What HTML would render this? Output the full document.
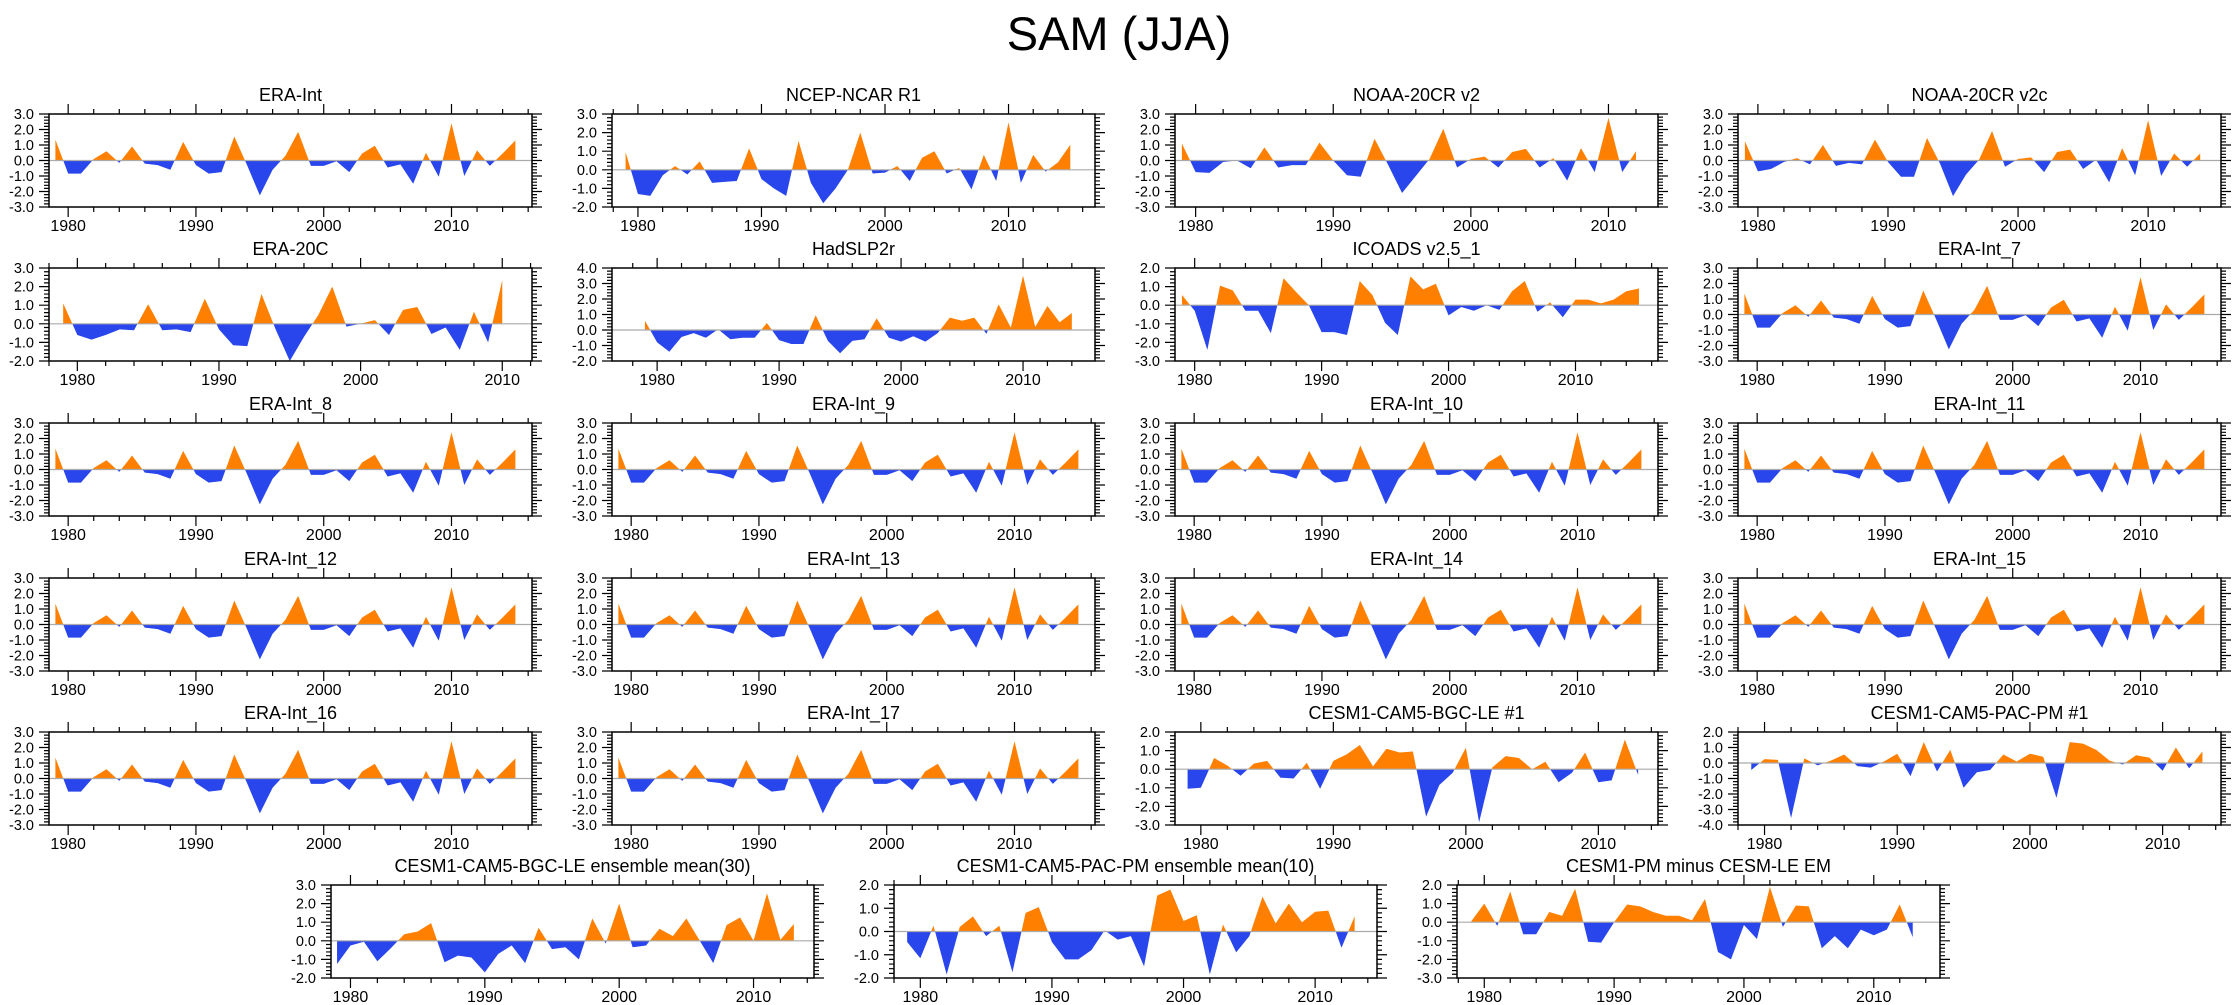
<!DOCTYPE html>
<html><head><meta charset="utf-8"><style>
html,body{margin:0;padding:0;background:#fff;}
svg{display:block;font-family:"Liberation Sans",sans-serif;}
</style></head><body>
<svg id="fig" width="2238" height="1005" viewBox="0 0 2238 1005" xmlns="http://www.w3.org/2000/svg">
<rect width="2238" height="1005" fill="#fff"/>
<text x="1119" y="50" font-size="47" text-anchor="middle" fill="#000">SAM (JJA)</text>
</svg>
<script>
// ---------- data ----------
const eraInt = [1.35,-0.85,-0.85,0.1,0.6,-0.15,0.9,-0.2,-0.3,-0.6,1.2,-0.3,-0.85,-0.75,1.55,-0.3,-2.25,-0.6,0.3,1.85,-0.35,-0.35,-0.05,-0.75,0.45,0.95,-0.45,-0.25,-1.5,0.5,-1.05,2.4,-1.0,0.65,-0.35,0.45,1.3];
const ncep = [0.95,-1.3,-1.4,-0.3,0.2,-0.25,0.45,-0.7,-0.65,-0.6,1.15,-0.5,-1.0,-1.4,1.55,-0.7,-1.8,-1.0,0.0,2.0,-0.2,-0.15,0.2,-0.6,0.65,1.0,-0.2,0.1,-1.05,0.8,-0.6,2.55,-0.7,0.8,-0.1,0.4,1.35];
const cr20v2 = [1.1,-0.75,-0.8,-0.1,0.0,-0.5,0.85,-0.45,-0.3,-0.3,1.15,0.0,-0.95,-1.05,1.4,-0.3,-2.1,-1.0,0.1,2.05,-0.45,0.1,0.25,-0.45,0.55,0.75,-0.45,0.15,-1.3,0.8,-0.75,2.75,-0.75,0.6];
const cr20v2c = [1.25,-0.7,-0.55,-0.1,0.15,-0.25,1.0,-0.35,-0.15,-0.25,1.35,-0.1,-1.05,-1.05,1.45,-0.2,-2.3,-0.9,0.05,1.9,-0.4,0.1,0.2,-0.75,0.55,0.7,-0.55,0.05,-1.4,0.8,-0.95,2.6,-1.0,0.45,-0.4,0.45];
const era20c = [1.1,-0.6,-0.85,-0.6,-0.3,-0.35,1.05,-0.35,-0.3,-0.45,1.35,-0.3,-1.15,-1.2,1.6,-0.3,-2.0,-0.7,0.45,2.0,-0.15,0.0,0.2,-0.6,0.75,0.9,-0.55,-0.2,-1.4,0.65,-1.0,2.35];
const hadslp = [0.6,-0.8,-1.4,-0.45,-0.2,-0.5,0.05,-0.6,-0.5,-0.5,0.45,-0.65,-0.9,-0.9,0.95,-0.7,-1.5,-0.7,-0.6,0.75,-0.5,-0.75,-0.4,-0.75,-0.2,0.8,0.6,0.8,-0.25,1.65,0.15,3.5,0.2,1.55,0.5,1.1];
const icoads = [0.55,-0.3,-2.4,1.05,0.8,-0.3,-0.3,-1.5,1.45,0.7,0.0,-1.45,-1.45,-1.6,1.3,0.55,-0.95,-1.6,1.55,0.85,1.15,-0.55,-0.1,-0.3,0.0,-0.25,0.75,1.3,-0.35,0.15,-0.65,0.3,0.3,0.1,0.3,0.75,0.9];
const bgcLe1 = [-1.05,-1.0,0.6,0.2,-0.35,0.3,0.45,-0.45,-0.5,0.35,-1.05,0.45,0.8,1.3,0.15,1.1,0.9,0.95,-2.55,-0.85,-0.2,1.15,-2.85,0.1,0.7,0.6,0.0,0.4,-0.7,-0.2,0.9,-0.7,-0.6,1.6,-0.3];
const pacPm1 = [-0.45,0.25,0.2,-3.55,0.3,-0.15,0.15,0.55,-0.2,-0.3,0.1,0.6,-0.85,1.35,-0.55,0.85,-1.6,-0.6,-0.45,0.55,0.1,0.6,0.4,-2.25,1.35,1.25,0.85,0.15,-0.1,0.5,0.35,-0.5,1.0,-0.35,0.75];
const bgcEm = [-1.25,-0.25,-0.05,-1.1,-0.4,0.35,0.5,0.95,-1.15,-0.8,-0.9,-1.7,-0.7,-0.25,-1.2,0.7,-0.45,-0.35,-1.0,1.2,-0.15,2.0,-0.35,-0.25,0.65,0.25,1.2,0.0,-1.2,0.85,1.25,0.0,2.55,0.05,0.9];
const pacEm = [-0.45,-1.15,0.25,-1.85,0.2,0.65,-0.2,0.25,-1.75,0.8,1.05,-0.45,-1.2,-1.2,-0.8,0.05,-0.35,-0.2,-1.5,1.55,1.8,0.45,0.7,-1.85,0.3,-0.9,-0.2,1.5,0.35,1.2,0.4,0.85,0.9,-0.7,0.65];
const pmMinus = [0.05,1.0,-0.2,1.65,-0.65,-0.65,0.55,0.35,1.8,-1.05,-1.1,0.0,0.95,0.85,0.55,0.35,0.35,0.1,1.25,-1.6,-2.0,-0.15,-0.9,1.9,-0.25,0.9,0.85,-1.4,-0.75,-1.4,-0.4,-0.7,-0.4,0.95,-0.8];

const panelTitles = ["ERA-Int","NCEP-NCAR R1","NOAA-20CR v2","NOAA-20CR v2c","ERA-20C","HadSLP2r","ICOADS v2.5_1","ERA-Int_7","ERA-Int_8","ERA-Int_9","ERA-Int_10","ERA-Int_11","ERA-Int_12","ERA-Int_13","ERA-Int_14","ERA-Int_15","ERA-Int_16","ERA-Int_17","CESM1-CAM5-BGC-LE #1","CESM1-CAM5-PAC-PM #1","CESM1-CAM5-BGC-LE ensemble mean(30)","CESM1-CAM5-PAC-PM ensemble mean(10)","CESM1-PM minus CESM-LE EM"];
const panelSeries = [eraInt,ncep,cr20v2,cr20v2c,era20c,hadslp,icoads,eraInt,eraInt,eraInt,eraInt,eraInt,eraInt,eraInt,eraInt,eraInt,eraInt,eraInt,bgcLe1,pacPm1,bgcEm,pacEm,pmMinus];
const panelYMin = [-3,-2,-3,-3,-2,-2,-3,-3,-3,-3,-3,-3,-3,-3,-3,-3,-3,-3,-3,-4,-2,-2,-3];
const panelYMax = [3,3,3,3,3,4,2,3,3,3,3,3,3,3,3,3,3,3,2,2,3,2,2];
const panelXMin = [1978.5,1977.9,1978.5,1978.47,1978.0,1976.3,1978.45,1978.5,1978.5,1978.5,1978.5,1978.5,1978.5,1978.5,1978.5,1978.5,1978.5,1978.5,1978.05,1978.0,1978.55,1978.0,1977.9];
const panelXMax = [2016.3,2017.0,2013.6,2015.6,2012.1,2015.9,2016.5,2016.3,2016.3,2016.3,2016.3,2016.3,2016.3,2016.3,2016.3,2016.3,2016.3,2016.3,2014.5,2014.4,2014.5,2014.7,2015.1];
const startYear = 1979;

// ---------- layout ----------
const NS = "http://www.w3.org/2000/svg";
const svg = document.getElementById("fig");
const colLeft = [49,612,1175,1738];
const rowTop = [114,268,423,578,732];
const bottomTop = 885;
const bottomLeft = [331,894,1457];
const PW = 483, PH = 93;

function mk(tag, attrs, parent){
  const e = document.createElementNS(NS, tag);
  for (const k in attrs) e.setAttribute(k, attrs[k]);
  (parent||svg).appendChild(e);
  return e;
}

function drawPanel(i, L, T){
  const vals = panelSeries[i], ymin = panelYMin[i], ymax = panelYMax[i];
  const xmin = panelXMin[i], xmax = panelXMax[i];
  const sx = yr => L + (yr - xmin) / (xmax - xmin) * PW;
  const sy = v => T + (ymax - v) / (ymax - ymin) * PH;
  const g = mk("g", {});
  
  

  const t = mk("text", {x: L + PW/2, y: T - 13, "font-size": 18, "text-anchor": "middle", fill: "#000"}, g);
  t.textContent = panelTitles[i];
  
  

  const pts = [];
  for (let k = 0; k < vals.length; k++){
    const yr = startYear + k, v = vals[k];
    if (k > 0){
      const pv = vals[k-1];
      if ((pv > 0 && v < 0) || (pv < 0 && v > 0)){
        const f = pv / (pv - v);
        pts.push([yr - 1 + f, 0]);
      }
    }
    pts.push([yr, v]);
  }
  const y0 = sy(0);
  const poly = (fn) => {
    let d = "M" + sx(pts[0][0]).toFixed(2) + "," + y0.toFixed(2);
    for (const p of pts) d += "L" + sx(p[0]).toFixed(2) + "," + sy(fn(p[1])).toFixed(2);
    d += "L" + sx(pts[pts.length-1][0]).toFixed(2) + "," + y0.toFixed(2) + "Z";
    return d;
  };
  const pos = mk("path", {d: poly(v => Math.max(v,0)), fill: "#ff8000"}, g);
  
  
  const neg = mk("path", {d: poly(v => Math.min(v,0)), fill: "#2945ec"}, g);
  
  

  const zl = mk("line", {x1: L, x2: L + PW, y1: y0, y2: y0, stroke: "#aaa", "stroke-width": 1.2}, g);
  
  

  let tk = "";
  const nMinor = Math.round((ymax - ymin) * 5);
  for (let m = 0; m <= nMinor; m++){
    const v = ymin + m * 0.2, y = sy(v).toFixed(2);
    const major = m % 5 === 0;
    const len = major ? 10 : 5;
    tk += "M" + (L - len) + "," + y + "H" + L + "M" + (L + PW) + "," + y + "H" + (L + PW + len);
  }
  for (let yr = Math.ceil(xmin / 2) * 2; yr <= xmax; yr += 2){
    const x = sx(yr).toFixed(2), major = yr % 10 === 0, len = major ? 10 : 5;
    tk += "M" + x + "," + (T + PH) + "V" + (T + PH + len) + "M" + x + "," + T + "V" + (T - len);
  }
  const ticks = mk("path", {d: tk, stroke: "#000", "stroke-width": 1.2, fill: "none"}, g);
  
  

  for (let v = ymin; v <= ymax; v++){
    const lb = mk("text", {x: L - 15, y: sy(v) + 5, "font-size": 14.5, "text-anchor": "end", fill: "#000"}, g);
    lb.textContent = v.toFixed(1);
    
    
  }
  for (let yr = Math.ceil(xmin / 10) * 10; yr <= xmax; yr += 10){
    const lb = mk("text", {x: sx(yr), y: T + PH + 24, "font-size": 16, "text-anchor": "middle", fill: "#000"}, g);
    lb.textContent = String(yr);
    
    
  }
  const fr = mk("rect", {x: L, y: T, width: PW, height: PH, fill: "none", stroke: "#000", "stroke-width": 1.5}, g);
  
  
}

for (let i = 0; i < 20; i++) drawPanel(i, colLeft[i % 4], rowTop[Math.floor(i / 4)]);
for (let i = 20; i < 23; i++) drawPanel(i, bottomLeft[i - 20], bottomTop);
</script>
</body></html>
